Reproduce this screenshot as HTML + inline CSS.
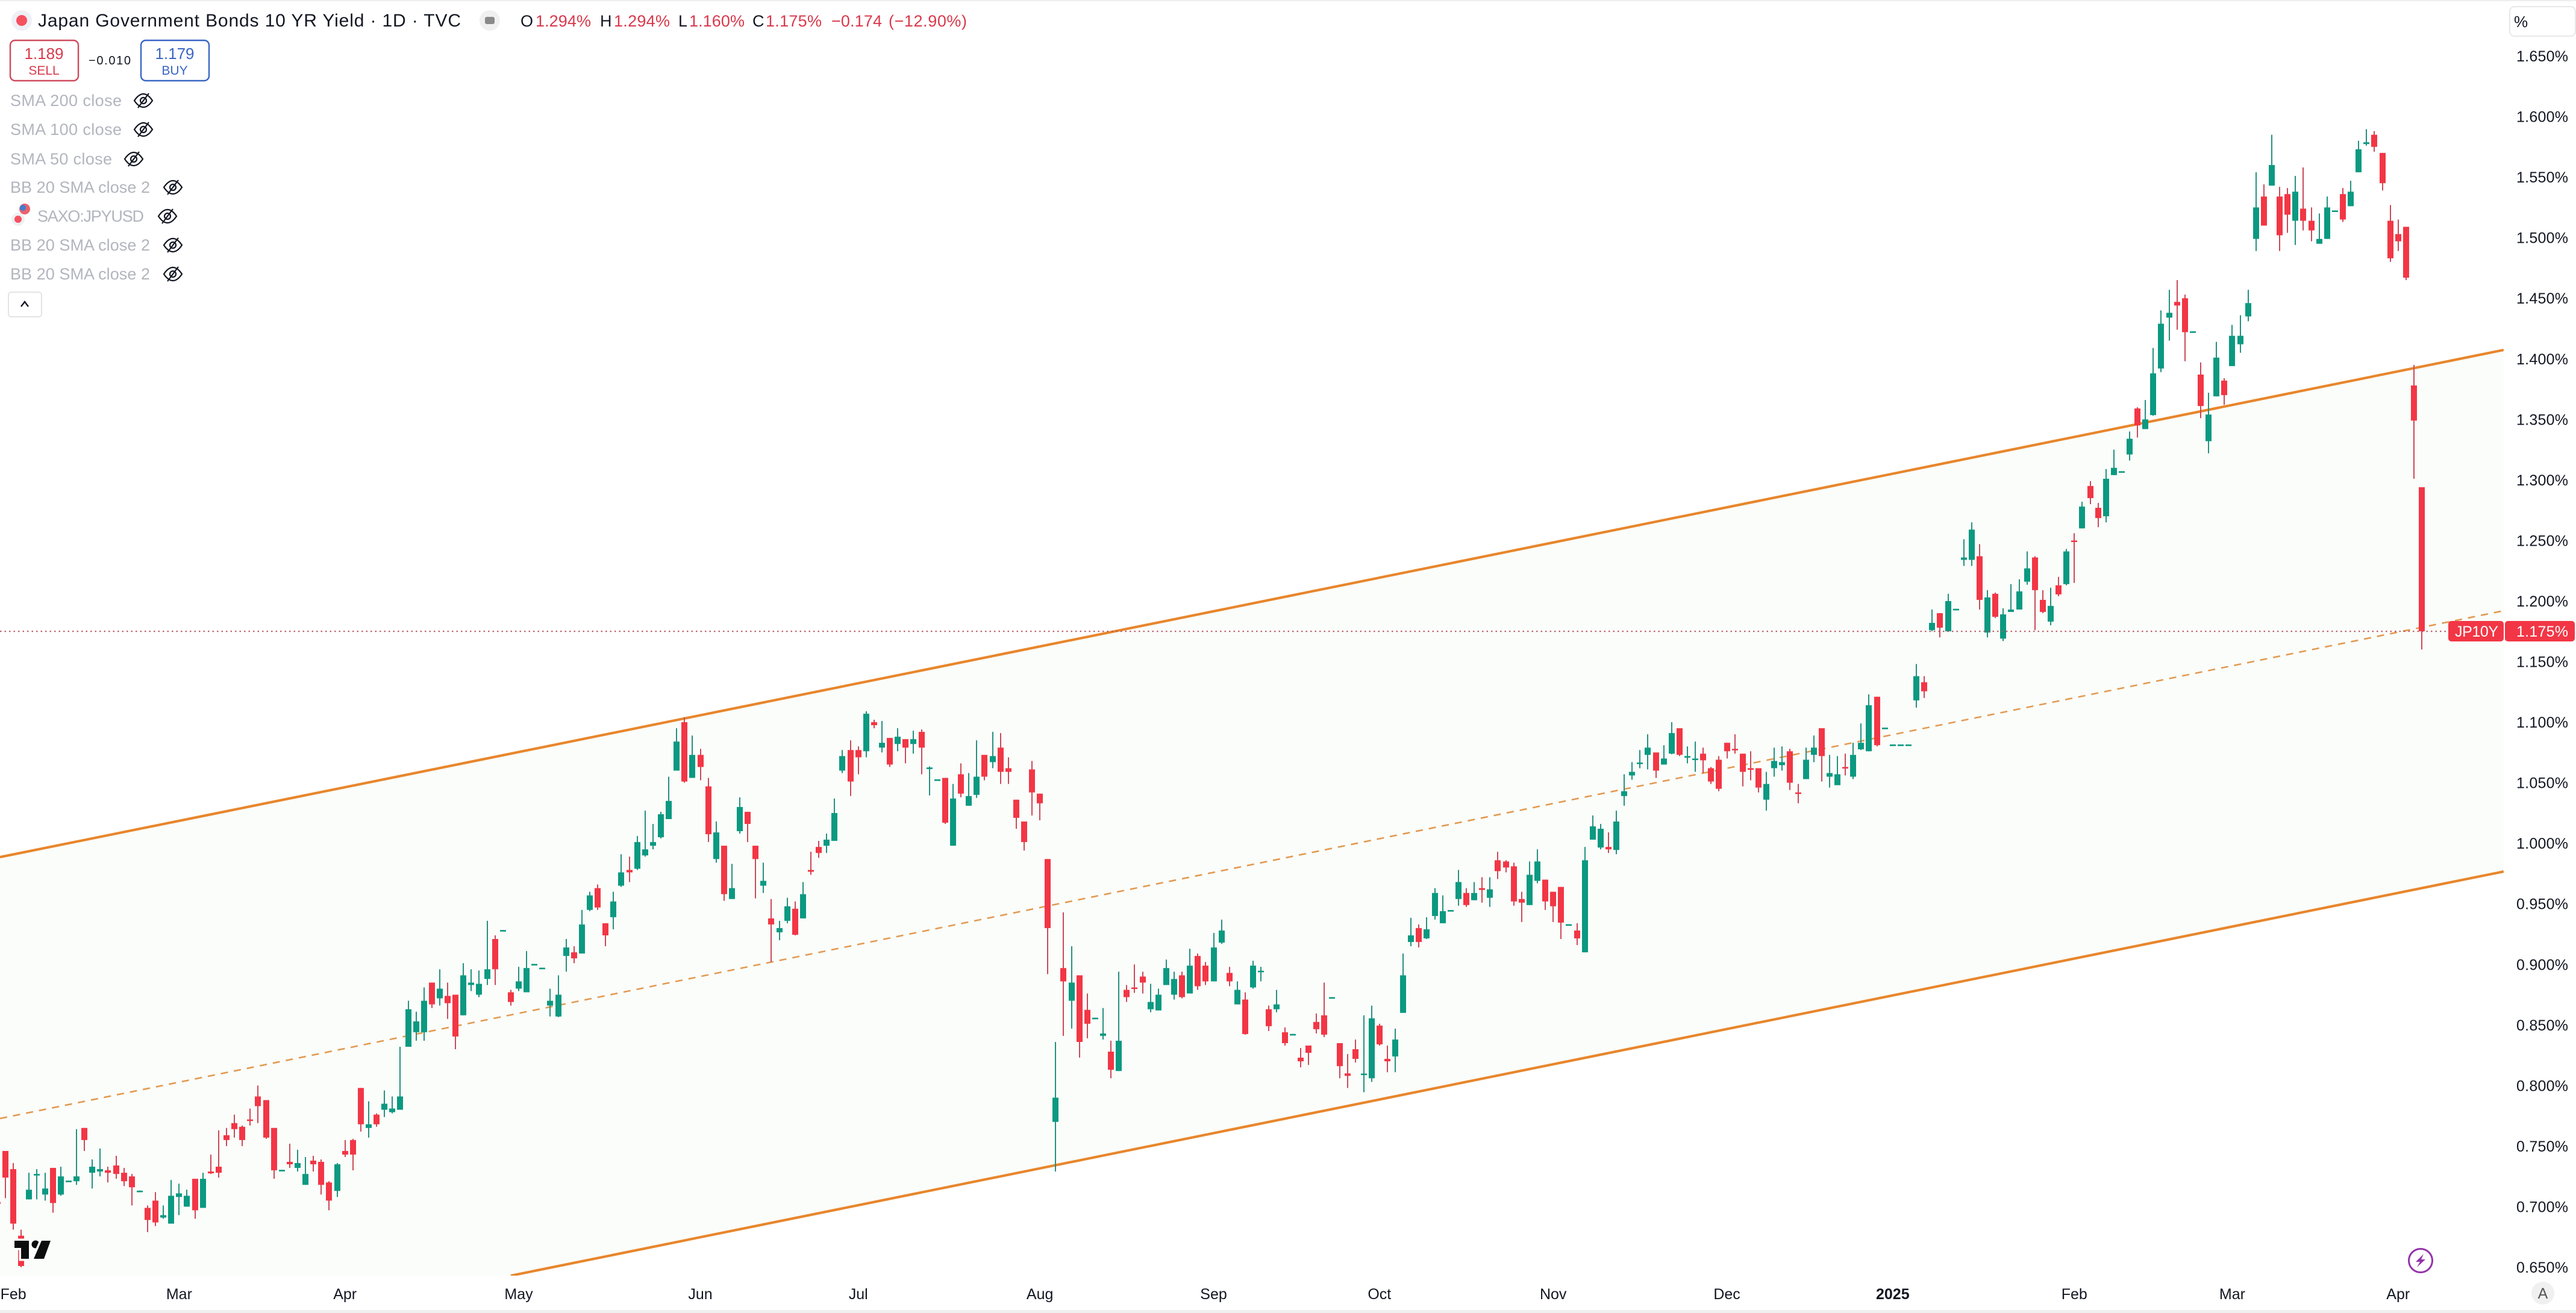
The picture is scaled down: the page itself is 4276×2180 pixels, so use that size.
<!DOCTYPE html>
<html lang="en">
<head>
<meta charset="utf-8">
<title>Japan Government Bonds 10 YR Yield</title>
<style>
html,body{margin:0;padding:0;background:#fff;width:4276px;height:2180px;overflow:hidden}
svg{display:block;font-family:"Liberation Sans",sans-serif}
.side{font-size:27px;fill:#b2b5be}
.eye path,.eye circle,.eye line{fill:none;stroke:#131722;stroke-width:2.2}
.ohlc{font-size:27px;fill:#d9394c}
.lab{font-size:27px;fill:#131722}
</style>
</head>
<body>
<svg id="chart" xmlns="http://www.w3.org/2000/svg" width="4276" height="2180" viewBox="0 0 4276 2180">
  <defs><clipPath id="plot-clip"><rect x="0" y="0" width="4156" height="2118"/></clipPath></defs>
  <rect x="0" y="0" width="4276" height="2180" fill="#ffffff"/>
  <rect x="0" y="0" width="4276" height="2" fill="#eeeeee"/>
  <rect x="0" y="2175" width="4276" height="5" fill="#efefef"/>
  <g id="channel" clip-path="url(#plot-clip)"></g>
  <g id="candles" clip-path="url(#plot-clip)"></g>
  <line id="price-line" stroke="#b5525e" stroke-width="2" stroke-dasharray="2.5 5"/>
  <g id="y-axis"></g>
  <g id="x-axis"></g>

  <g>
    <rect x="4064" y="1031" width="92" height="34" rx="5" fill="#f23645"/>
    <text x="4075" y="1057" font-size="25" fill="#ffffff" textLength="72">JP10Y</text>
    <rect x="4158" y="1031" width="116" height="34" rx="5" fill="#f23645"/>
    <text x="4177" y="1057" font-size="25" fill="#ffffff" textLength="86">1.175%</text>
  </g>

  <g fill="#0d0d0d" stroke="#fcfdfc" stroke-width="7" paint-order="stroke">
    <path d="M24 2060H48V2090H35V2072H24Z"/>
    <circle cx="59" cy="2066" r="6.5"/>
    <path d="M84 2060H69L56 2090H73Z"/>
  </g>

  <g>
    <circle cx="36" cy="34" r="17" fill="#eef0f5"/>
    <circle cx="36" cy="34" r="9" fill="#f5515f"/>
    <text x="63" y="44" font-size="30" fill="#131722" textLength="702">Japan Government Bonds 10 YR Yield · 1D · TVC</text>
    <circle cx="813" cy="34" r="17" fill="#f0f0f0"/>
    <rect x="805" y="28" width="16" height="12" rx="3" fill="#8a8a8a"/>
    <text class="lab" x="864" y="44">O</text>
    <text class="ohlc" x="889" y="44" textLength="92">1.294%</text>
    <text class="lab" x="996" y="44">H</text>
    <text class="ohlc" x="1019" y="44" textLength="93">1.294%</text>
    <text class="lab" x="1126" y="44">L</text>
    <text class="ohlc" x="1144" y="44" textLength="92">1.160%</text>
    <text class="lab" x="1249" y="44">C</text>
    <text class="ohlc" x="1271" y="44" textLength="93">1.175%</text>
    <text class="ohlc" x="1380" y="44" textLength="84">−0.174</text>
    <text class="ohlc" x="1475" y="44" textLength="130">(−12.90%)</text>

    <g>
      <rect x="17" y="67" width="113" height="67" rx="8" fill="#ffffff" stroke="#cf4a5c" stroke-width="2.4"/>
      <text x="73" y="98" font-size="26" fill="#d9394c" text-anchor="middle">1.189</text>
      <text x="73" y="124" font-size="21" fill="#d9394c" text-anchor="middle">SELL</text>
    </g>
    <text x="147" y="107" font-size="20" fill="#131722" textLength="70">−0.010</text>
    <g>
      <rect x="234" y="67" width="113" height="67" rx="8" fill="#ffffff" stroke="#3a66c4" stroke-width="2.4"/>
      <text x="290" y="98" font-size="26" fill="#3a66c4" text-anchor="middle">1.179</text>
      <text x="290" y="124" font-size="21" fill="#3a66c4" text-anchor="middle">BUY</text>
    </g>

    <text class="side" x="17" y="176" textLength="185">SMA 200 close</text>
    <g class="eye" transform="translate(238,167)"><path d="M-15 0C-9-9-4-11 0-11C4-11 9-9 15 0C9 9 4 11 0 11C-4 11-9 9-15 0Z"/><circle r="5"/><line x1="-9" y1="12" x2="9" y2="-12"/></g>
    <text class="side" x="17" y="224" textLength="185">SMA 100 close</text>
    <g class="eye" transform="translate(238,215)"><path d="M-15 0C-9-9-4-11 0-11C4-11 9-9 15 0C9 9 4 11 0 11C-4 11-9 9-15 0Z"/><circle r="5"/><line x1="-9" y1="12" x2="9" y2="-12"/></g>
    <text class="side" x="17" y="273" textLength="169">SMA 50 close</text>
    <g class="eye" transform="translate(222,264)"><path d="M-15 0C-9-9-4-11 0-11C4-11 9-9 15 0C9 9 4 11 0 11C-4 11-9 9-15 0Z"/><circle r="5"/><line x1="-9" y1="12" x2="9" y2="-12"/></g>
    <text class="side" x="17" y="320" textLength="232">BB 20 SMA close 2</text>
    <g class="eye" transform="translate(287,311)"><path d="M-15 0C-9-9-4-11 0-11C4-11 9-9 15 0C9 9 4 11 0 11C-4 11-9 9-15 0Z"/><circle r="5"/><line x1="-9" y1="12" x2="9" y2="-12"/></g>
    <circle cx="41" cy="347" r="9" fill="#e8636f"/>
    <circle cx="38" cy="345" r="5" fill="#3f7fd0"/>
    <circle cx="30" cy="364" r="11" fill="#eef0f5"/>
    <circle cx="30" cy="364" r="6" fill="#f5515f"/>
    <text class="side" x="62" y="368" textLength="177">SAXO:JPYUSD</text>
    <g class="eye" transform="translate(278,359)"><path d="M-15 0C-9-9-4-11 0-11C4-11 9-9 15 0C9 9 4 11 0 11C-4 11-9 9-15 0Z"/><circle r="5"/><line x1="-9" y1="12" x2="9" y2="-12"/></g>
    <text class="side" x="17" y="416" textLength="232">BB 20 SMA close 2</text>
    <g class="eye" transform="translate(287,407)"><path d="M-15 0C-9-9-4-11 0-11C4-11 9-9 15 0C9 9 4 11 0 11C-4 11-9 9-15 0Z"/><circle r="5"/><line x1="-9" y1="12" x2="9" y2="-12"/></g>
    <text class="side" x="17" y="464" textLength="232">BB 20 SMA close 2</text>
    <g class="eye" transform="translate(287,455)"><path d="M-15 0C-9-9-4-11 0-11C4-11 9-9 15 0C9 9 4 11 0 11C-4 11-9 9-15 0Z"/><circle r="5"/><line x1="-9" y1="12" x2="9" y2="-12"/></g>
    <g>
      <rect x="14" y="485" width="55" height="41" rx="5" fill="#ffffff" stroke="#e4e4e4" stroke-width="2"/>
      <path d="M35 509L41 501L47 509" fill="none" stroke="#131722" stroke-width="2.4"/>
    </g>
  </g>

  <g>
    <rect x="4166" y="11" width="109" height="49" rx="8" fill="#ffffff" stroke="#e8e8e8" stroke-width="2"/>
    <text x="4173" y="45" font-size="26" fill="#131722">%</text>
  </g>

  <g>
    <circle cx="4018" cy="2093" r="19.5" fill="#ffffff" stroke="#9333a8" stroke-width="3"/>
    <path d="M4023 2082L4010 2095H4017L4012 2104L4026 2091H4019Z" fill="#9333a8"/>
  </g>
  <g>
    <circle cx="4221" cy="2147" r="19" fill="#f0f0f0"/>
    <text x="4221" y="2156" font-size="25" fill="#555555" text-anchor="middle">A</text>
  </g>
</svg>
<script>
// Daily bars: index 0 is the partly cropped bar at the left edge.
const opens = [.7039,
.746,.731,.676,.706,.726,.710,.732,.710,.721,.721,
.765,.728,.729,.730,.734,.728,.725,.7128,.699,.705,
.691,.686,.708,.700,.723,.699,.729,.733,.759,.769,
.766,.772,.791,.788,.765,.730,.737,.732,.718,.738,
.737,.720,.713,.746,.755,.798,.765,.776,.780,.778,
.780,.832,.844,.844,.885,.872,.874,.875,.858,.883,
.875,.888,.921,.9276,.877,.880,.877,.8998,.8967,.866,
.857,.907,.910,.909,.945,.963,.934,.939,.965,.978,
.979,.990,.998,1.005,1.020,1.060,1.100,1.054,1.073,1.047,
.987,.998,.954,1.010,1.026,.998,.965,.938,.9265,.936,
.946,.938,.978,.997,.998,1.002,1.060,1.077,1.077,1.076,
1.100,1.079,1.087,1.082,1.086,1.082,1.092,1.0620,1.0522,1.054,
.998,1.057,1.031,1.040,1.073,1.067,1.079,1.062,1.036,1.018,
1.061,1.041,.987,.770,.897,.870,.891,.8625,.8554,.841,
.828,.812,.879,.881,.890,.863,.862,.883,.875,.891,
.876,.907,.899,.886,.918,.893,.867,.871,.881,.8942,
.863,.863,.844,.8420,.823,.833,.8525,.858,.8724,.835,
.810,.830,.8088,.806,.8495,.822,.824,.860,.9185,.930,
.9215,.940,.934,.9443,.954,.959,.953,.963,.955,.986,
.985,.981,.954,.949,.969,.970,.960,.964,.9326,.928,
.910,1.003,.9965,.997,.9945,1.039,1.056,1.066,1.073,1.075,
1.065,1.074,1.095,1.071,1.069,1.074,1.062,1.069,1.083,1.078,
1.074,1.062,1.062,1.036,1.062,1.0645,1.076,1.042,1.053,1.073,
1.095,1.055,1.048,1.063,1.055,1.0776,1.076,1.121,1.0949,1.081,
1.081,1.081,1.118,1.133,1.176,1.190,1.175,1.193,1.234,1.234,
1.237,1.174,1.206,1.169,1.191,1.193,1.216,1.236,1.201,1.183,
1.213,1.214,1.250,1.260,1.295,1.277,1.270,1.304,1.3066,1.321,
1.359,1.342,1.3535,1.392,1.434,1.447,1.450,1.4221,1.387,1.332,
1.369,1.382,1.394,1.412,1.435,1.499,1.534,1.543,1.534,1.536,
1.514,1.524,1.514,1.495,1.499,1.5219,1.536,1.526,1.554,1.5773,
1.585,1.570,1.514,1.503,1.509,1.378,1.294];
const highs = [.708,
.746,.736,.681,.728,.731,.728,.732,.733,.7215,.764,
.765,.739,.748,.733,.742,.732,.727,.7134,.701,.712,
.701,.722,.719,.714,.723,.728,.743,.763,.765,.776,
.767,.781,.800,.788,.765,.7304,.752,.747,.741,.742,
.739,.721,.736,.755,.756,.798,.787,.777,.796,.791,
.832,.870,.861,.881,.885,.896,.885,.875,.901,.896,
.895,.936,.924,.9284,.879,.898,.911,.9004,.8973,.880,
.891,.921,.915,.945,.960,.966,.934,.960,.991,.989,
1.006,1.027,1.016,1.026,1.055,1.095,1.104,1.089,1.078,1.054,
1.018,.998,.983,1.038,1.026,.998,.984,.954,.936,.955,
.952,.968,.993,1.002,1.008,1.037,1.077,1.085,1.080,1.109,
1.102,1.101,1.087,1.095,1.086,1.093,1.094,1.0635,1.0528,1.054,
1.049,1.066,1.058,1.085,1.073,1.092,1.091,1.071,1.036,1.018,
1.068,1.041,.987,.836,.943,.915,.891,.876,.8560,.864,
.837,.894,.883,.900,.894,.884,.880,.904,.894,.894,
.913,.909,.902,.926,.937,.898,.886,.877,.903,.898,
.866,.879,.848,.8426,.831,.833,.8595,.885,.8730,.835,
.826,.838,.858,.866,.851,.833,.847,.909,.9385,.933,
.939,.963,.957,.9449,.978,.963,.968,.972,.972,.993,
.986,.984,.960,.985,.995,.970,.960,.964,.9332,.934,
.997,1.023,1.016,1.009,1.027,1.057,1.067,1.077,1.090,1.075,
1.081,1.100,1.095,1.080,1.084,1.079,1.063,1.072,1.083,1.090,
1.074,1.076,1.062,1.059,1.079,1.080,1.078,1.049,1.079,1.089,
1.095,1.073,1.072,1.074,1.083,1.099,1.123,1.121,1.0955,1.0816,
1.0816,1.0816,1.148,1.138,1.193,1.190,1.206,1.1936,1.251,1.265,
1.247,1.209,1.207,1.194,1.214,1.218,1.241,1.237,1.209,1.211,
1.220,1.243,1.256,1.282,1.299,1.281,1.309,1.325,1.3072,1.340,
1.360,1.366,1.409,1.440,1.457,1.465,1.453,1.4227,1.397,1.372,
1.414,1.384,1.428,1.436,1.457,1.554,1.544,1.585,1.542,1.541,
1.551,1.558,1.525,1.520,1.534,1.5225,1.541,1.547,1.580,1.5896,
1.588,1.570,1.527,1.515,1.509,1.395,1.294];
const lows = [.700,
.707,.681,.650,.706,.706,.705,.695,.709,.7205,.718,
.746,.715,.725,.720,.723,.717,.701,.7126,.679,.684,
.690,.686,.693,.700,.690,.699,.727,.724,.750,.757,
.750,.767,.769,.756,.723,.7296,.732,.729,.718,.729,
.710,.697,.708,.741,.730,.762,.757,.766,.774,.777,
.780,.832,.837,.837,.864,.866,.855,.830,.858,.878,
.873,.883,.883,.9276,.866,.878,.877,.8998,.8967,.857,
.8565,.894,.901,.909,.944,.945,.915,.929,.964,.968,
.978,.989,.995,1.004,1.020,1.060,1.050,1.054,1.052,1.001,
.984,.9525,.954,1.008,1.001,.9545,.959,.902,.920,.934,
.924,.938,.974,.988,.992,1.002,1.058,1.039,1.057,1.071,
1.095,1.075,1.063,1.076,1.066,1.074,1.057,1.0395,1.0522,1.016,
.998,1.038,1.031,1.0375,1.052,1.062,1.049,1.049,1.012,.994,
1.023,1.019,.892,.729,.841,.847,.823,.839,.8554,.838,
.806,.812,.869,.8765,.876,.8605,.862,.883,.871,.872,
.876,.879,.883,.886,.917,.882,.867,.842,.880,.886,
.845,.8605,.833,.8420,.815,.817,.843,.840,.8724,.806,
.798,.819,.7945,.803,.833,.811,.811,.860,.915,.914,
.921,.937,.934,.9443,.9485,.9475,.953,.951,.9475,.9705,
.976,.9485,.935,.949,.967,.945,.935,.921,.9326,.916,
.910,1.003,.995,.992,.991,1.031,1.0525,1.062,1.061,1.054,
1.065,1.0735,1.072,1.066,1.059,1.058,1.049,1.043,1.070,1.074,
1.047,1.052,1.042,1.027,1.055,1.060,1.044,1.033,1.053,1.067,
1.051,1.046,1.048,1.056,1.053,1.077,1.076,1.080,1.0949,1.081,
1.081,1.081,1.112,1.120,1.175,1.170,1.175,1.193,1.229,1.229,
1.193,1.170,1.186,1.167,1.191,1.193,1.2135,1.176,1.190,1.180,
1.204,1.213,1.215,1.260,1.280,1.261,1.265,1.304,1.3066,1.316,
1.335,1.342,1.353,1.389,1.415,1.424,1.398,1.4221,1.351,1.322,
1.369,1.362,1.394,1.405,1.431,1.489,1.510,1.543,1.489,1.504,
1.494,1.506,1.497,1.495,1.499,1.5219,1.513,1.526,1.554,1.576,
1.571,1.539,1.480,1.489,1.465,1.301,1.160];
const closes = [.7023,
.724,.686,.651,.714,.727,.715,.703,.725,.7215,.725,
.755,.733,.731,.728,.727,.721,.716,.7132,.689,.687,
.693,.709,.711,.709,.697,.723,.7275,.728,.755,.764,
.755,.771,.783,.757,.730,.7304,.735,.736,.727,.735,
.718,.705,.735,.743,.743,.768,.768,.768,.785,.781,
.791,.863,.853,.870,.867,.880,.868,.8405,.891,.885,
.884,.896,.896,.9284,.869,.886,.897,.9004,.8973,.870,
.875,.914,.905,.933,.957,.947,.924,.952,.976,.976,
1.001,.995,1.001,1.024,1.035,1.084,1.051,1.073,1.063,1.0075,
1.009,.958,.963,1.030,1.016,.987,.969,.933,.930,.948,
.9245,.958,.9765,.992,1.003,1.025,1.072,1.051,1.071,1.107,
1.0975,1.083,1.065,1.088,1.079,1.086,1.079,1.0626,1.0528,1.017,
1.037,1.041,1.039,1.055,1.055,1.072,1.059,1.059,1.021,1.001,
1.042,1.033,.930,.790,.886,.885,.836,.851,.8560,.843,
.813,.837,.873,.880,.885,.869,.875,.897,.888,.873,
.899,.882,.886,.914,.928,.886,.879,.8425,.899,.8948,
.849,.867,.835,.8426,.820,.827,.8465,.842,.8730,.816,
.808,.822,.8099,.8555,.834,.820,.838,.891,.924,.9185,
.929,.959,.944,.9449,.968,.949,.959,.9615,.962,.977,
.980,.952,.951,.974,.985,.952,.948,.9345,.9332,.9215,
.986,1.014,1.012,.995,1.018,1.043,1.059,1.0667,1.079,1.060,
1.070,1.091,1.073,1.072,1.070,1.0685,1.051,1.045,1.076,1.077,
1.059,1.061,1.046,1.049,1.068,1.067,1.050,1.041,1.069,1.079,
1.072,1.058,1.057,1.062,1.073,1.083,1.114,1.081,1.0955,1.0816,
1.0816,1.0816,1.138,1.1255,1.182,1.178,1.200,1.1936,1.236,1.259,
1.201,1.203,1.187,1.189,1.193,1.208,1.227,1.209,1.191,1.196,
1.2055,1.241,1.249,1.278,1.285,1.2685,1.301,1.310,1.3072,1.334,
1.345,1.350,1.388,1.429,1.438,1.444,1.422,1.4227,1.361,1.354,
1.401,1.370,1.419,1.419,1.446,1.525,1.510,1.560,1.502,1.519,
1.538,1.514,1.506,1.499,1.525,1.5225,1.515,1.538,1.573,1.5788,
1.575,1.545,1.483,1.497,1.467,1.349,1.175];

const yTicks = [1.65,1.6,1.55,1.5,1.45,1.4,1.35,1.3,1.25,1.2,1.15,1.1,1.05,1,.95,.9,.85,.8,.75,.7,.65];
const monthLabels = ['Feb','Mar','Apr','May','Jun','Jul','Aug','Sep','Oct','Nov','Dec','2025','Feb','Mar','Apr'];
const monthBars = [2,23,44,66,89,109,132,154,175,197,219,240,263,283,304];
const channelBars = [0.313,317.36];
const channelUpper = [.9886,1.4073];
const channelMiddle = [.7728,1.1920];
const channelLower = [.5575,.9767];
const lastPrice = 1.175;

const NS = 'http://www.w3.org/2000/svg';
const PLOT_BOTTOM = 2118;
function xScale(i){ return -4.1 + 13.108*i; }
function yScale(v){ return 93 + (1.65 - v)*2011; }
function mk(tag, attrs){
  const el = document.createElementNS(NS, tag);
  for (const k in attrs) el.setAttribute(k, attrs[k]);
  return el;
}

// Channel
const channel = document.getElementById('channel');
const x1 = xScale(channelBars[0]), x2 = xScale(channelBars[1]);
const lowY1 = yScale(channelLower[0]), lowY2 = yScale(channelLower[1]);
// The lower boundary leaves the plot at its bottom edge, so cut it there.
const lowStartX = lowY1 > PLOT_BOTTOM ? x1 + (PLOT_BOTTOM - lowY1)/(lowY2 - lowY1)*(x2 - x1) : x1;
const lowStartY = Math.min(lowY1, PLOT_BOTTOM);
const fill = mk('polygon', {
  points: [x1+','+yScale(channelUpper[0]), x2+','+yScale(channelUpper[1]), x2+','+lowY2, lowStartX+','+lowStartY, x1+','+PLOT_BOTTOM].join(' '),
  fill: '#fbfdfa'
});


channel.appendChild(fill);
const upperLine = mk('line', {x1:x1, x2:x2, y1:yScale(channelUpper[0]), y2:yScale(channelUpper[1]), stroke:'#e8862c', 'stroke-width':4.2});


channel.appendChild(upperLine);
const lowerLine = mk('line', {x1:lowStartX, x2:x2, y1:lowStartY, y2:lowY2, stroke:'#e8862c', 'stroke-width':4.2});


channel.appendChild(lowerLine);
const middleLine = mk('line', {x1:x1, x2:x2, y1:yScale(channelMiddle[0]), y2:yScale(channelMiddle[1]), stroke:'#e39a52', 'stroke-width':2.6, 'stroke-dasharray':'12 10'});


channel.appendChild(middleLine);

// Candles
const candles = document.getElementById('candles');
opens.forEach(function(o, i){
  const c = closes[i], up = c >= o;
  const x = Math.round(xScale(i));
  const g = mk('g', {});
  
  
  const top = yScale(highs[i]), bot = yScale(lows[i]);
  const wick = mk('rect', {x:x-1, y:top, width:2, height:Math.max(bot-top,1), fill: up ? '#25907f' : '#c84a5a'});
  
  
  g.appendChild(wick);
  const by = yScale(Math.max(o,c)), bh = Math.max(Math.abs(yScale(o)-yScale(c)), 2.6);
  const body = mk('rect', {x:x-5, y:by, width:10, height:bh, fill: up ? '#0b9981' : '#f23645'});
  
  
  g.appendChild(body);
  candles.appendChild(g);
});

// Last price line
const pl = document.getElementById('price-line');
pl.setAttribute('x1', 0);
pl.setAttribute('x2', 4064);
pl.setAttribute('y1', yScale(lastPrice));
pl.setAttribute('y2', yScale(lastPrice));

// Y axis
const yAxis = document.getElementById('y-axis');
yTicks.forEach(function(v){
  const t = mk('text', {x:4177, y:yScale(v)+9, 'font-size':25, fill:'#131722', textLength:86});
  
  
  t.textContent = v.toFixed(3) + '%';
  yAxis.appendChild(t);
});

// X axis
const xAxis = document.getElementById('x-axis');
monthLabels.forEach(function(label, k){
  const t = mk('text', {x:xScale(monthBars[k]), y:2157, 'font-size':25, fill:'#131722', 'text-anchor':'middle', 'font-weight': label === '2025' ? 'bold' : 'normal'});
  
  
  t.textContent = label;
  xAxis.appendChild(t);
});
</script>
</body>
</html>
